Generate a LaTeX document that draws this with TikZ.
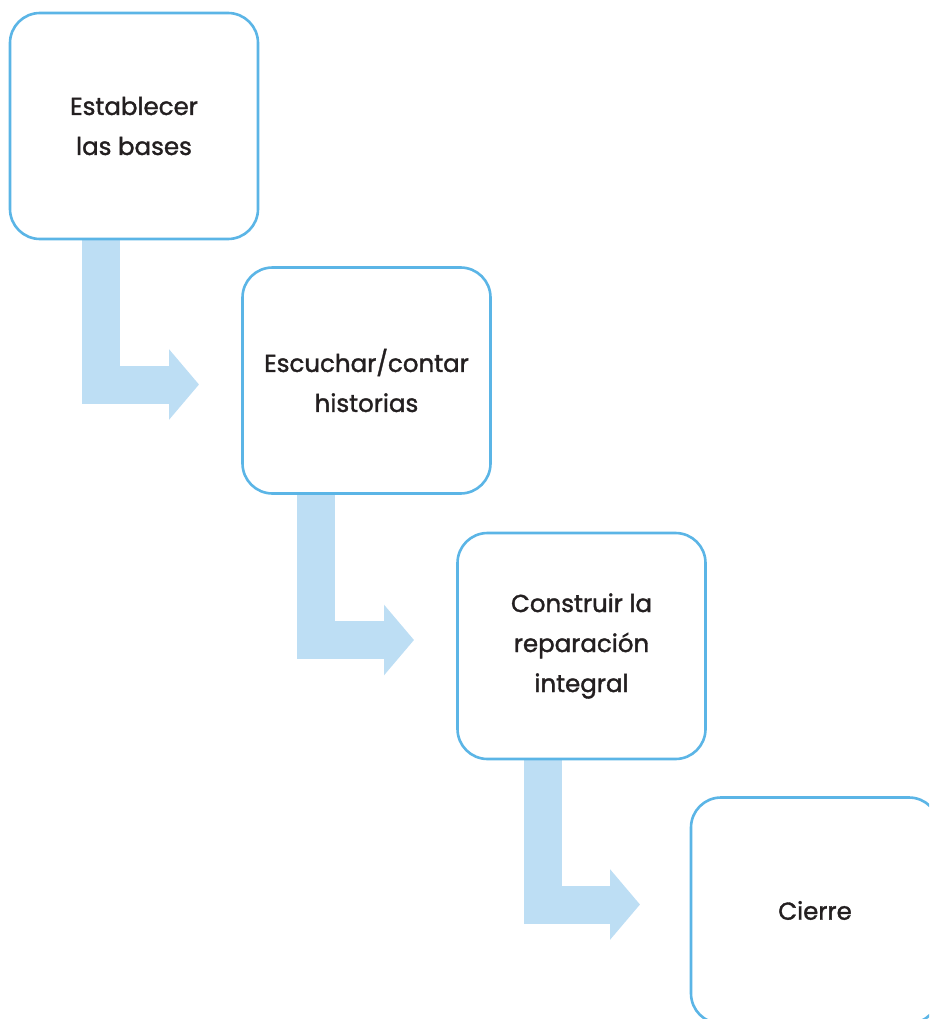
\documentclass[tikz,border=0pt]{standalone}
\usepackage{fontspec}
\setmainfont{Poppins}[FakeBold=1.4]
\usetikzlibrary{arrows.meta,backgrounds}
\definecolor{boxline}{HTML}{5BB5E6}
\definecolor{arrowfill}{HTML}{BDDEF4}
\definecolor{txt}{HTML}{231F20}
\begin{document}
\begin{tikzpicture}[x=1pt,y=-1pt,
  stepbox/.style={draw=boxline, line width=2.6pt, rounded corners=30pt,
    minimum width=248pt, minimum height=226pt, inner sep=0pt, align=center,
    font=\fontsize{24.5}{40}\selectfont, text=txt, fill=white},
  flow/.style={draw=arrowfill, line width=38pt, line join=miter,
    -{Triangle[length=30pt,width=69pt]}}]
\useasboundingbox (0,0) rectangle (929,1019);
\clip (0,0) rectangle (929,1019);
\node[stepbox] (b1) at (134,126) {Establecer\\las bases};
\node[stepbox] (b2) at (366.5,380.5) {Escuchar/contar\\historias};
\node[stepbox] (b3) at (581.5,646) {Construir la\\reparación\\integral};
\node[stepbox] (b4) at (815,910.5) {Cierre};
\coordinate (t1) at (199,384.5);
\coordinate (t2) at (414,640);
\coordinate (t3) at (640,904.5);
\begin{scope}[on background layer]
\draw[flow] ([xshift=92pt]b1.south west) |- (t1);
\draw[flow] ([xshift=75pt]b2.south west) |- (t2);
\draw[flow] ([xshift=87pt]b3.south west) |- (t3);
\end{scope}
\end{tikzpicture}
\end{document}
